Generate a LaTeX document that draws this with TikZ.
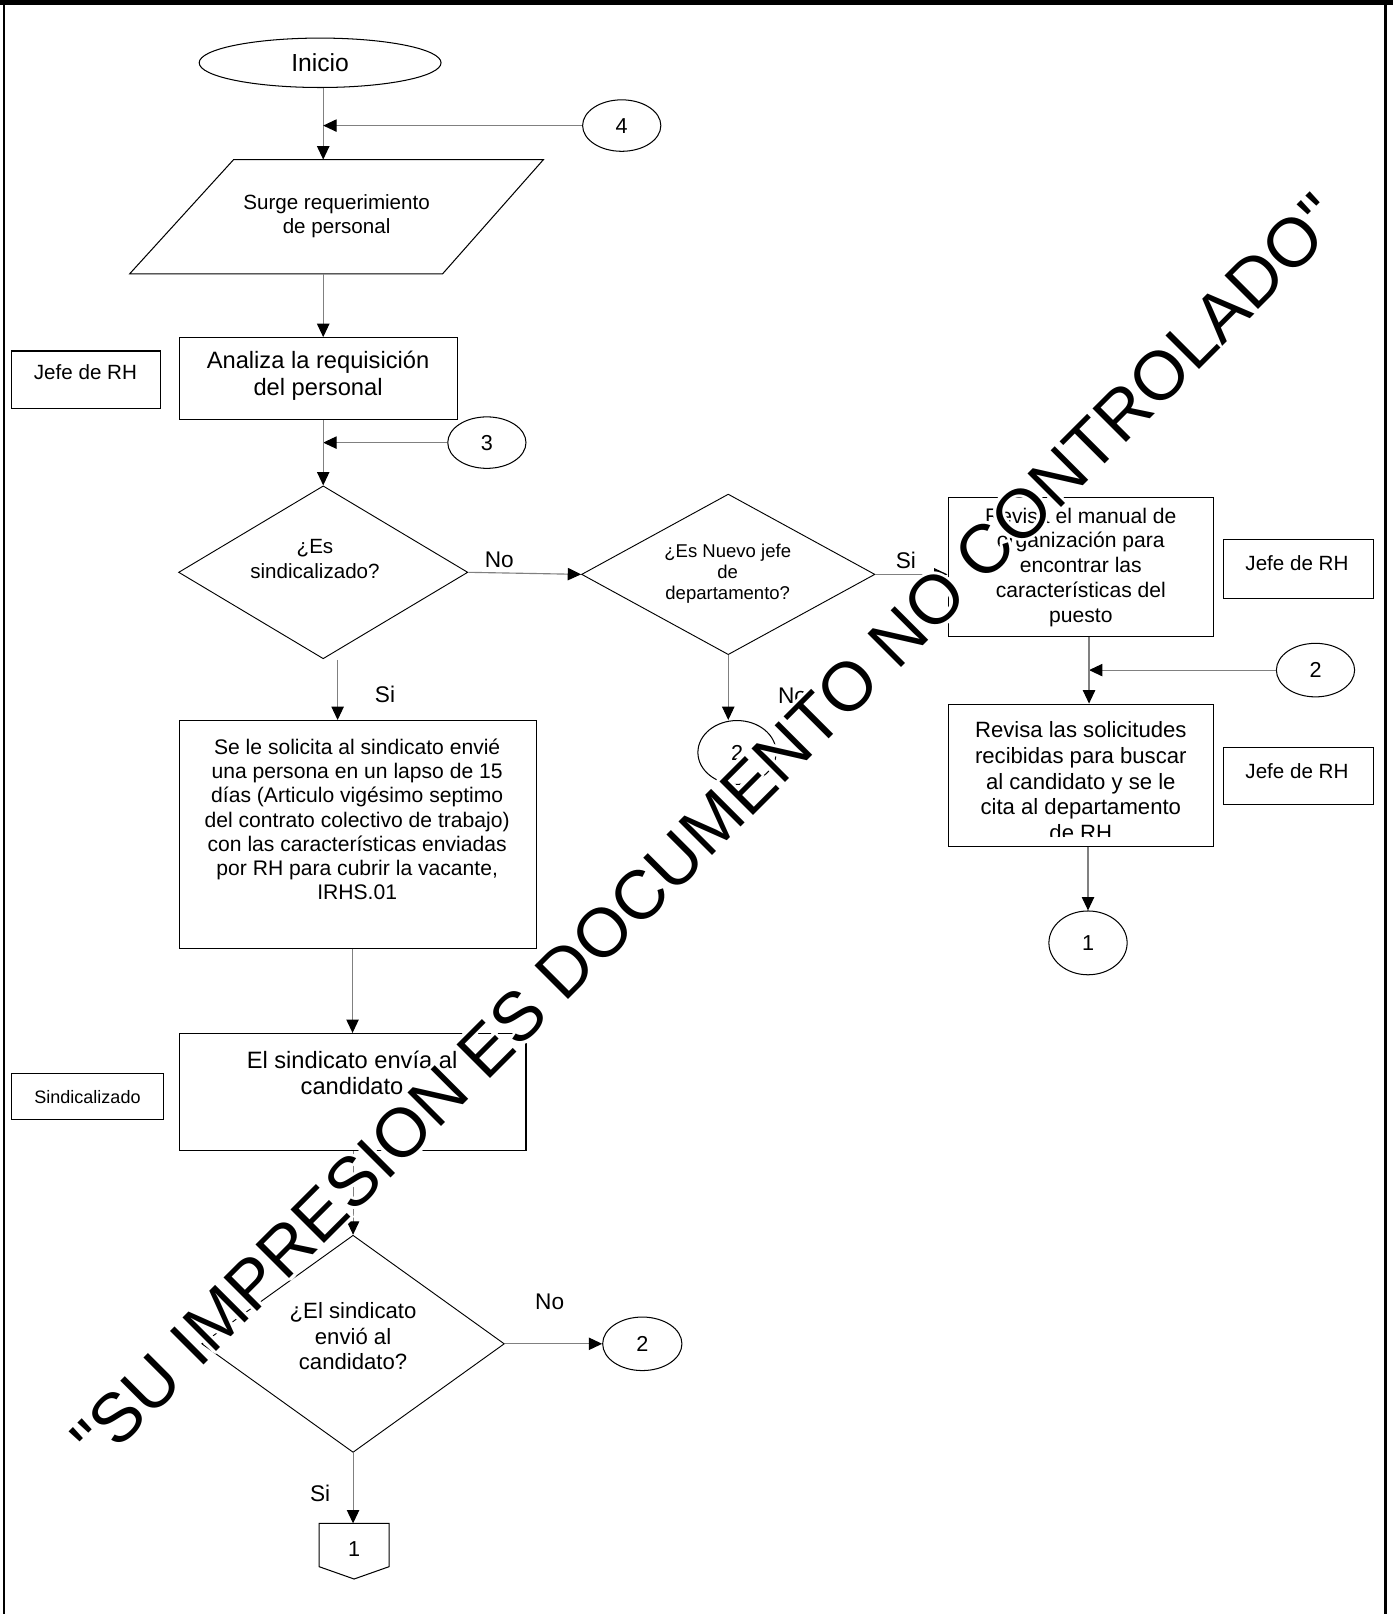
\documentclass[tikz,border=0pt]{standalone}
\usepackage{fontspec}
\setmainfont{Liberation Sans}
\newfontfamily\wmfont{Liberation Sans}
\usetikzlibrary{shapes.geometric,arrows.meta,calc}
\begin{document}
\begin{tikzpicture}[x=1pt,y=-1pt,
  conn/.style={draw=gray, line width=1.1pt, -{Triangle[length=13pt,width=12pt,color=black]}},
  procbox/.style={draw=black, line width=1pt, rectangle, inner sep=0pt},
  term/.style={draw=black, line width=1pt, ellipse, inner sep=0pt},
  dia/.style={draw=black, line width=0.9pt, diamond, inner sep=0pt},
  txt/.style={align=center, inner sep=0pt},
  lbl/.style={inner sep=0pt, font=\fontsize{22}{26}\selectfont},
  wm/.style={inner sep=0pt, rotate=45, font=\wmfont\fontsize{67}{70}\selectfont}
]
\useasboundingbox (0,0) rectangle (1353,1568);
% frame
\fill[black] (0,0) rectangle (1353,4.5);
\draw[line width=2pt] (4,0) -- (4,1568);
\draw[line width=2pt] (1346,0) -- (1346,1568);

\coordinate (colA) at (314,0);
\coordinate (colB) at (1058,0);

% Inicio
\node[term, minimum width=235pt, minimum height=48pt] (inicio) at (311,61) {\fontsize{24}{28}\selectfont Inicio};
% connector 4
\node[term, minimum width=76pt, minimum height=50pt, font=\fontsize{21}{25}\selectfont] (c4) at (604,122) {4};
% parallelogram
\draw[line width=1pt] (227,155) -- (528,155) -- (430,266) -- (126,266) -- cycle;
\coordinate (partop) at (314,155);
\coordinate (parbot) at (314,266);
\node[txt, font=\fontsize{20}{23}\selectfont] (par) at (327,210) {Surge requerimiento\\de personal};
\draw[conn] (inicio.south -| colA) -- (partop);
\draw[conn] (c4.west) -- (c4.west -| colA);

% Analiza
\node[procbox, minimum width=270pt, minimum height=80pt] (anal) at (309,368) {};
\node[txt, font=\fontsize{23}{27}\selectfont] (analt) at (309,365) {Analiza la requisición\\del personal};
\draw[conn] (parbot) -- (parbot |- anal.north);
\node[procbox, minimum width=145pt, minimum height=56pt] (jefe1) at (83.5,369) {};
\node[txt, font=\fontsize{20}{24}\selectfont] (jefe1t) at (83,362) {Jefe de RH};

% connector 3
\node[term, minimum width=76pt, minimum height=50pt, font=\fontsize{21}{25}\selectfont] (c3) at (473,430) {3};
\draw[conn] (c3.west) -- (c3.west -| colA);

% diamond 1
\node[dia, minimum width=281pt, minimum height=168pt] (d1) at (314,556) {};
\node[txt, font=\fontsize{20}{24}\selectfont] (d1t) at (306,543) {¿Es\\sindicalizado?};
\draw[conn] (anal.south -| colA) -- (d1.north);

% diamond 2
\node[dia, minimum width=285pt, minimum height=156pt] (d2) at (707.5,558) {};
\node[txt, font=\fontsize{18}{20.5}\selectfont] (d2t) at (707,557) {¿Es Nuevo jefe\\de\\departamento?};
\draw[conn] (d1.east) -- (d2.west);
\node[lbl] (no1) at (485,544) {No};

% revisa 1
\node[procbox, minimum width=258pt, minimum height=135pt] (rev1) at (1050,550.5) {};
\node[txt, font=\fontsize{20.5}{24}\selectfont] (rev1t) at (1050,551) {Revisa el manual de\\organización para\\encontrar las\\características del\\puesto};
\draw[conn] (d2.east) -- (d2.east -| rev1.west);
\node[lbl] (si1) at (880,544) {Si};
\node[procbox, minimum width=145pt, minimum height=57pt] (jefe2) at (1261.5,552.5) {};
\node[txt, font=\fontsize{20}{24}\selectfont] (jefe2t) at (1260,547) {Jefe de RH};

% connector 2 (right)
\node[term, minimum width=76pt, minimum height=52pt, font=\fontsize{21}{25}\selectfont] (c2a) at (1278,651) {2};
\draw[conn] (c2a.west) -- (c2a.west -| colB);

% revisa 2
\node[procbox, minimum width=258pt, minimum height=138pt] (rev2) at (1050,753) {};
\begin{scope}
\clip ($(rev2.north west)+(1,1)$) rectangle ($(rev2.south east)+(-1,-10)$);
\node[txt, font=\fontsize{21.5}{25}\selectfont] (rev2t) at (1050,759) {Revisa las solicitudes\\recibidas para buscar\\al candidato y se le\\cita al departamento\\de RH};
\end{scope}
\draw[conn] (rev1.south -| colB) -- (rev2.north -| colB);
\node[procbox, minimum width=145pt, minimum height=56pt] (jefe3) at (1261.5,754) {};
\node[txt, font=\fontsize{20}{24}\selectfont] (jefe3t) at (1260,749) {Jefe de RH};

% connector 1 (right)
\node[term, minimum width=76pt, minimum height=62pt, font=\fontsize{21}{25}\selectfont] (c1a) at (1057,916) {1};
\draw[conn] (rev2.south -| c1a.north) -- (c1a.north);

% d2 No -> 2
\node[term, minimum width=76pt, minimum height=62pt, font=\fontsize{21}{25}\selectfont] (c2b) at (716,731) {2};
\draw[conn] (d2.south) -- (d2.south |- c2b.north);
\node[lbl] (no2) at (770,676) {No};

% sol box
\coordinate (d1s) at (328,641);
\node[procbox, minimum width=347pt, minimum height=221pt] (sol) at (347.5,810.5) {};
\node[txt, font=\fontsize{20.5}{23.5}\selectfont] (solt) at (347,796) {Se le solicita al sindicato envié\\una persona en un lapso de 15\\días (Articulo vigésimo septimo\\del contrato colectivo de trabajo)\\con las características enviadas\\por RH para cubrir la vacante,\\IRHS.01};
\draw[conn] (d1s) -- (d1s |- sol.north);
\node[lbl] (si2) at (374,675) {Si};

% sindicato envia
\node[procbox, minimum width=337pt, minimum height=114pt] (sind) at (342.5,1061) {};
\node[txt, font=\fontsize{23}{25}\selectfont] (sindt) at (342,1042) {El sindicato envía al\\candidato};
\draw[conn] (sol.south -| sind.north) -- (sind.north);
\node[procbox, minimum width=148pt, minimum height=45pt, font=\fontsize{17.5}{20}\selectfont] (sindl) at (85,1065.5) {Sindicalizado};

% diamond 3
\node[dia, minimum width=294pt, minimum height=211pt] (d3) at (343,1305.5) {};
\node[txt, font=\fontsize{21.5}{25}\selectfont] (d3t) at (343,1298) {¿El sindicato\\envió al\\candidato?};
\draw[conn] (sind.south -| d3.north) -- (d3.north);
\node[term, minimum width=77pt, minimum height=52pt, font=\fontsize{21}{25}\selectfont] (c2c) at (624,1305.5) {2};
\draw[conn] (d3.east) -- (c2c.west);
\node[lbl] (no3) at (534,1265) {No};

% off-page connector
\draw[line width=1pt] (310,1480) -- (378,1480) -- (378,1522) -- (344,1534) -- (310,1522) -- cycle;
\coordinate (opctop) at (343,1480);
\node[txt, font=\fontsize{21}{25}\selectfont] (opct) at (344,1505) {1};
\draw[conn] (d3.south) -- (opctop);
\node[lbl] (si3) at (311,1451) {Si};

% watermark
\coordinate (wmc) at (686,805);
\foreach \a in {0,30,...,330}{
  \node[wm, white] (wmh\a) at ($(wmc)+(\a:3)$) {"SU IMPRESION ES DOCUMENTO NO CONTROLADO"};
}
\node[wm, black] (wm) at (wmc) {"SU IMPRESION ES DOCUMENTO NO CONTROLADO"};
\end{tikzpicture}
\end{document}
